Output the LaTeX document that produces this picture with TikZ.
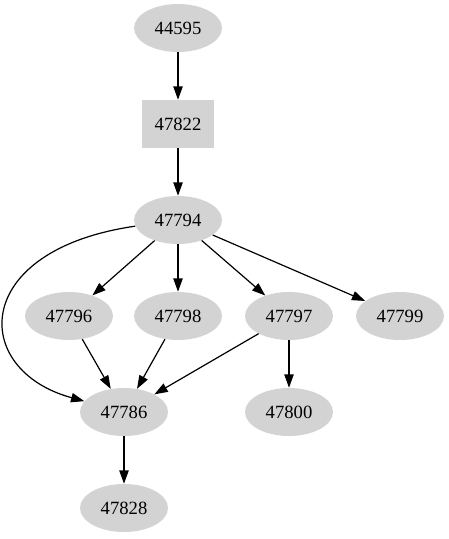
\documentclass[tikz,border=0pt]{standalone}
\usepackage{fontspec}
\setmainfont{Liberation Serif}
\usetikzlibrary{shapes.geometric, arrows.meta}
\definecolor{nodegray}{HTML}{D3D3D3}

\begin{document}
\begin{tikzpicture}[x=0.75pt, y=-0.75pt,
    every node/.style={font=\fontsize{14pt}{16pt}\selectfont},
    oval/.style={ellipse, fill=nodegray, minimum width=66pt, minimum height=36pt, inner sep=0pt},
    box/.style={rectangle, fill=nodegray, minimum width=54pt, minimum height=36pt, inner sep=0pt},
    edge/.style={-{Triangle[length=10pt, width=7pt]}, line width=0.9pt}]
  \useasboundingbox (0,0) rectangle (449,539);
  % Nodes
  \node[oval] (n44595) at (178, 28) {44595};
  \node[box]  (n47822) at (178, 124) {47822};
  \node[oval] (n47794) at (178, 220) {47794};
  \node[oval] (n47796) at (69, 316) {47796};
  \node[oval] (n47798) at (178, 316) {47798};
  \node[oval] (n47797) at (289, 316) {47797};
  \node[oval] (n47799) at (400, 316) {47799};
  \node[oval] (n47786) at (124, 412) {47786};
  \node[oval] (n47800) at (289, 412) {47800};
  \node[oval] (n47828) at (124, 508) {47828};

  % Edges
  \draw[edge] (n44595) -- (n47822);
  \draw[edge] (n47822) -- (n47794);
  \draw[edge] (n47794) -- (n47796);
  \draw[edge] (n47794) -- (n47798);
  \draw[edge] (n47794) -- (n47797);
  \draw[edge] (n47794) -- (n47799);
  \draw[edge] (n47794) .. controls (-30, 250) and (-30, 370) .. (n47786);
  \draw[edge] (n47796) -- (n47786);
  \draw[edge] (n47798) -- (n47786);
  \draw[edge] (n47797) -- (n47786);
  \draw[edge] (n47797) -- (n47800);
  \draw[edge] (n47786) -- (n47828);
\end{tikzpicture}
\end{document}
